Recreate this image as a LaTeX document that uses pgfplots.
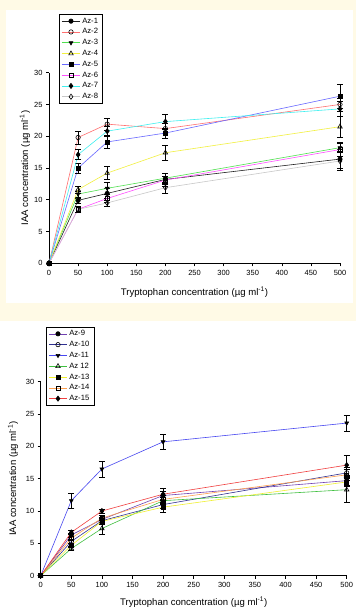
\documentclass[border=0pt]{standalone}
\usepackage{fontspec}
\setmainfont{Liberation Sans}
\usepackage{pgfplots}
\pgfplotsset{compat=1.18}
\definecolor{bgy}{HTML}{FFFAE6}
\definecolor{c1}{HTML}{202020}
\definecolor{c2}{HTML}{FF7070}
\definecolor{c3}{HTML}{50E050}
\definecolor{c4}{HTML}{F2F040}
\definecolor{c5}{HTML}{6868FF}
\definecolor{c6}{HTML}{FF50FF}
\definecolor{c7}{HTML}{40F0F0}
\definecolor{c8}{HTML}{C8C8C8}
\definecolor{d9}{HTML}{7040B0}
\definecolor{d10}{HTML}{303090}
\definecolor{d11}{HTML}{4848F0}
\definecolor{d12}{HTML}{40C040}
\definecolor{d13}{HTML}{F0F030}
\definecolor{d14}{HTML}{FFA050}
\definecolor{d15}{HTML}{F04040}
\pgfplotsset{
  chartstyle/.style={
    scale only axis,
    axis x line*=bottom, axis y line*=left,
    axis line style={-, black, line width=0.6bp},
    tick align=outside, major tick length=3bp,
    tick style={black, line width=0.6bp},
    xmin=0, xmax=500, ymin=0, ymax=30,
    xtick={0,50,...,500}, ytick={0,5,...,30},
    /pgf/number format/assume math mode=true,
    tick label style={font=\fontsize{7.5}{8.5}\selectfont},
    label style={font=\fontsize{9.6}{11}\selectfont},
    xlabel={Tryptophan concentration (µg ml\textsuperscript{-1})},
    ylabel={IAA concentration (µg ml\textsuperscript{-1})},
    clip=false,
    error bars/y dir=both, error bars/y explicit,
    error bars/error bar style={black, line width=0.5bp},
    error bars/error mark options={rotate=90, black, mark size=3bp, line width=0.5bp},
    every axis plot/.append style={line width=0.6bp, mark size=2.2bp},
    legend cell align=left,
    legend image code/.code={\draw[mark repeat=2,mark phase=2] plot coordinates {(0bp,0bp)(9bp,0bp)(18bp,0bp)};},
    legend style={draw=black, line width=0.6bp, font=\fontsize{7.7}{8.5}\selectfont,
      row sep=0bp, inner xsep=2.5bp, inner ysep=1.5bp, anchor=north west},
  },
  fb/.style={mark options={solid, draw=black, fill=black}},
  ow/.style={mark options={solid, draw=black, fill=white}},
}
\begin{document}
\begin{tikzpicture}[x=1bp,y=1bp]
\useasboundingbox (0,0) rectangle (356,608);
\fill[bgy] (0,0) rectangle (356,608);
\fill[white] (6,305) rectangle (353,598);
\fill[white] (0,0) rectangle (356,287);
% ---------- top panel ----------
\begin{axis}[chartstyle,
  at={(49bp,344.7bp)}, anchor=south west, width=291bp, height=190.6bp,
  xlabel style={at={(axis description cs:0.5,-0.152)}, anchor=center},
  ylabel style={at={(axis description cs:-0.0825,0.5)}, anchor=center, rotate=0},
  legend style={at={(0.034,1.308)}},
]
\addplot[c1, mark=*, fb] coordinates {(0,0) +- (0,0) (50,9.9) +- (0,0.4) (100,11.0) +- (0,0.8) (200,13.2) +- (0,1.0) (500,16.4) +- (0,1.5)};
\addlegendentry{Az-1}
\addplot[c2, mark=o, ow] coordinates {(0,0) +- (0,0) (50,19.8) +- (0,1.0) (100,21.9) +- (0,0.9) (200,21.2) +- (0,0.8) (500,25.0) +- (0,1.0)};
\addlegendentry{Az-2}
\addplot[c3, mark=triangle*, mark options={solid, draw=black, fill=black, rotate=180}] coordinates {(0,0) +- (0,0) (50,10.9) +- (0,0.5) (100,11.8) +- (0,0.9) (200,13.4) +- (0,0.8) (500,18.2) +- (0,0.8)};
\addlegendentry{Az-3}
\addplot[c4, mark=triangle, ow, mark size=2.6bp] coordinates {(0,0) +- (0,0) (50,11.6) +- (0,0.5) (100,14.2) +- (0,1.0) (200,17.4) +- (0,1.2) (500,21.5) +- (0,1.7)};
\addlegendentry{Az-4}
\addplot[c5, mark=square*, fb, mark size=2bp] coordinates {(0,0) +- (0,0) (50,15.0) +- (0,0.8) (100,19.1) +- (0,1.0) (200,20.5) +- (0,0.8) (500,26.3) +- (0,1.9)};
\addlegendentry{Az-5}
\addplot[c6, mark=square, ow, mark size=2bp] coordinates {(0,0) +- (0,0) (50,8.5) +- (0,0.4) (100,10.2) +- (0,0.6) (200,13.1) +- (0,0.6) (500,17.9) +- (0,1.0)};
\addlegendentry{Az-6}
\addplot[c7, mark=diamond*, fb, mark size=2.6bp] coordinates {(0,0) +- (0,0) (50,17.1) +- (0,0.8) (100,20.8) +- (0,0.8) (200,22.3) +- (0,1.2) (500,24.3) +- (0,1.2)};
\addlegendentry{Az-7}
\addplot[c8, mark=diamond, ow, mark size=2.6bp] coordinates {(0,0) +- (0,0) (50,8.5) +- (0,0.4) (100,9.5) +- (0,0.5) (200,11.9) +- (0,0.8) (500,16.1) +- (0,1.5)};
\addlegendentry{Az-8}
\end{axis}
% ---------- bottom panel ----------
\begin{axis}[chartstyle,
  at={(40.7bp,32.3bp)}, anchor=south west, width=306bp, height=194bp,
  xlabel style={at={(axis description cs:0.5,-0.138)}, anchor=center},
  ylabel style={at={(axis description cs:-0.0905,0.5)}, anchor=center, rotate=0},
  legend style={at={(0.017,1.284)}},
]
\addplot[d9, mark=*, fb] coordinates {(0,0) +- (0,0) (50,6.3) +- (0,0.3) (100,8.7) +- (0,0.4) (200,12.4) +- (0,0.6) (500,14.7) +- (0,0.7)};
\addlegendentry{Az-9}
\addplot[d10, mark=o, ow] coordinates {(0,0) +- (0,0) (50,5.3) +- (0,0.3) (100,8.5) +- (0,0.4) (200,11.0) +- (0,0.6) (500,15.9) +- (0,0.8)};
\addlegendentry{Az-10}
\addplot[d11, mark=triangle*, mark options={solid, draw=black, fill=black, rotate=180}] coordinates {(0,0) +- (0,0) (50,11.6) +- (0,1.1) (100,16.5) +- (0,1.2) (200,20.7) +- (0,1.1) (500,23.6) +- (0,1.2)};
\addlegendentry{Az-11}
\addplot[d12, mark=triangle, ow, mark size=2.6bp] coordinates {(0,0) +- (0,0) (50,4.2) +- (0,0.3) (100,7.3) +- (0,0.9) (200,11.6) +- (0,0.6) (500,13.3) +- (0,1.9)};
\addlegendentry{Az 12}
\addplot[d13, mark=square*, fb, mark size=2bp] coordinates {(0,0) +- (0,0) (50,4.7) +- (0,0.3) (100,8.4) +- (0,0.4) (200,10.6) +- (0,0.8) (500,14.5) +- (0,0.7)};
\addlegendentry{Az-13}
\addplot[d14, mark=square, ow, mark size=2bp] coordinates {(0,0) +- (0,0) (50,5.8) +- (0,0.3) (100,8.9) +- (0,0.4) (200,11.8) +- (0,0.6) (500,15.6) +- (0,0.8)};
\addlegendentry{Az-14}
\addplot[d15, mark=diamond*, fb, mark size=2.6bp] coordinates {(0,0) +- (0,0) (50,6.7) +- (0,0.3) (100,10.0) +- (0,0.3) (200,12.6) +- (0,1.0) (500,17.1) +- (0,1.5)};
\addlegendentry{Az-15}
\end{axis}
\end{tikzpicture}
\end{document}
